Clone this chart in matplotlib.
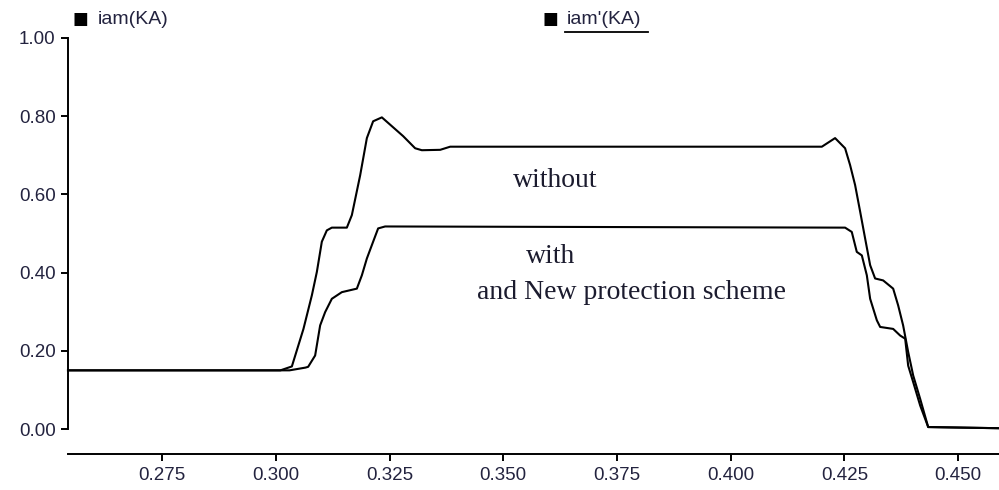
import numpy as np
import matplotlib
matplotlib.use("Agg")
import matplotlib.pyplot as plt

# =========================
# DATA
# =========================
t_without = [0.2543, 0.3010, 0.30352, 0.30607, 0.30792, 0.30902, 0.31011, 0.31121,
             0.31231, 0.31561, 0.31671, 0.31854, 0.32001, 0.32139, 0.32331, 0.32799,
             0.33063, 0.33210, 0.33613, 0.33833, 0.42005, 0.42296, 0.42516, 0.42626,
             0.42736, 0.42847, 0.42957, 0.43067, 0.43176, 0.43353, 0.43573, 0.43683,
             0.43792, 0.43903, 0.44013, 0.44167, 0.44343, 0.4590]
iam_without = [0.150, 0.150, 0.160, 0.256, 0.342, 0.402, 0.479, 0.508,
               0.515, 0.515, 0.547, 0.649, 0.744, 0.787, 0.797, 0.749,
               0.718, 0.713, 0.714, 0.722, 0.722, 0.744, 0.718, 0.675,
               0.624, 0.556, 0.487, 0.419, 0.385, 0.380, 0.359, 0.316,
               0.265, 0.197, 0.137, 0.077, 0.005, 0.002]

t_with = [0.2543, 0.3030, 0.30650, 0.30710, 0.30864, 0.30974, 0.31084, 0.31231,
          0.31451, 0.31781, 0.31891, 0.32001, 0.32139, 0.32249, 0.32403, 0.42516,
          0.42663, 0.42773, 0.42884, 0.42994, 0.43067, 0.43214, 0.43287, 0.43573,
          0.43727, 0.43837, 0.43903, 0.44013, 0.44167, 0.44343, 0.4590]
iam_with = [0.150, 0.150, 0.157, 0.159, 0.188, 0.265, 0.299, 0.333,
            0.350, 0.359, 0.393, 0.436, 0.479, 0.513, 0.518, 0.515,
            0.504, 0.453, 0.444, 0.393, 0.333, 0.278, 0.261, 0.256,
            0.239, 0.231, 0.162, 0.120, 0.060, 0.005, 0.002]

x_ticks = [0.275, 0.300, 0.325, 0.350, 0.375, 0.400, 0.425, 0.450]
y_ticks = [0.00, 0.20, 0.40, 0.60, 0.80, 1.00]

# =========================
# PLOT
# =========================
label_color = "#23233f"

fig = plt.figure(figsize=(9.99, 4.90), dpi=100)
ax = fig.add_axes([68 / 999, 61 / 490, 931 / 999, 391 / 490])

ax.plot(t_without, iam_without, color="black", lw=1.5, clip_on=False)
ax.plot(t_with, iam_with, color="black", lw=1.5, clip_on=False)

ax.set_xlim(0.2543, 0.4590)
ax.set_ylim(0, 1)

ax.spines["top"].set_visible(False)
ax.spines["right"].set_visible(False)
ax.spines["bottom"].set_position(("outward", 18))
for s in ("left", "bottom"):
    ax.spines[s].set_linewidth(1.4)

ax.set_xticks(x_ticks)
ax.set_xticklabels([f"{v:.3f}" for v in x_ticks])
ax.set_yticks(y_ticks)
ax.set_yticklabels([f"{v:.2f}" for v in y_ticks])
ax.tick_params(axis="both", direction="out", length=5, width=1.4,
               labelsize=13.5, labelcolor=label_color, pad=4)
for lab in ax.get_xticklabels() + ax.get_yticklabels():
    lab.set_family("Liberation Sans")

# annotations
serif = dict(family="Liberation Serif", fontsize=20, color="#1b1b2e")
ax.text(0.3614, 0.635, "without", ha="center", va="center", **serif)
ax.text(0.3605, 0.44, "with", ha="center", va="center", **serif)
ax.text(0.3781, 0.35, "and New protection scheme", ha="center", va="center", **serif)

# legend-like labels at the top
fig.text(72 / 999, 1 - 19 / 490, "■", fontsize=12, color="black", va="center")
fig.text(98 / 999, 1 - 19 / 490, "iam(KA)", fontsize=14, color=label_color,
         va="center", family="Liberation Sans")
fig.text(542 / 999, 1 - 19 / 490, "■", fontsize=12, color="black", va="center")
fig.text(567 / 999, 1 - 19 / 490, "iam'(KA)", fontsize=14, color=label_color,
         va="center", family="Liberation Sans")
fig.add_artist(plt.Line2D([565 / 999, 648 / 999], [1 - 32 / 490, 1 - 32 / 490],
                          color="black", lw=1.3))

fig.savefig("out.png", dpi=100, facecolor="white")
